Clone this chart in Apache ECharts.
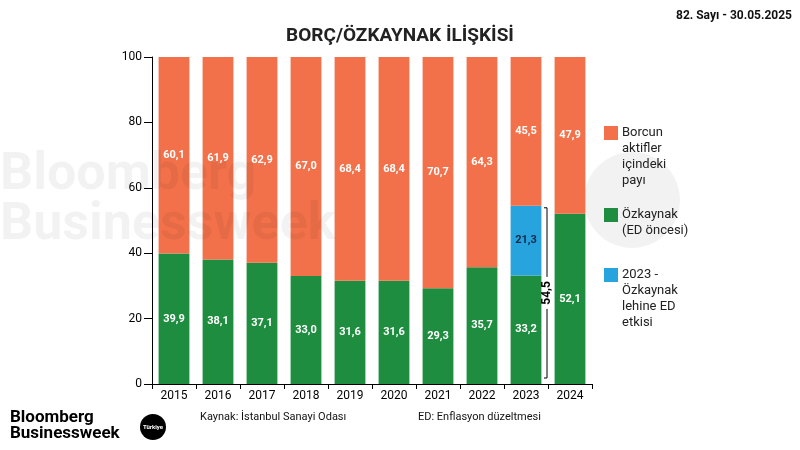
<!DOCTYPE html>
<html><head><meta charset="utf-8">
<script src="https://cdn.jsdelivr.net/npm/echarts@6/dist/echarts.min.js"></script>
<style>html,body{margin:0;background:#fff}#c{width:800px;height:450px}</style>
</head><body><div id="c"></div>
<script>
"use strict";
const years = ["2015", "2016", "2017", "2018", "2019", "2020", "2021", "2022", "2023", "2024"];
const equity = [39.9, 38.1, 37.1, 33.0, 31.6, 31.6, 29.3, 35.7, 33.2, 52.1];
const edEffect = [0, 0, 0, 0, 0, 0, 0, 0, 21.3, 0];
const debt = [60.1, 61.9, 62.9, 67.0, 68.4, 68.4, 70.7, 64.3, 45.5, 47.9];
const yTicks = [0, 20, 40, 60, 80, 100];
const bracketTotal = 54.5;

const colors = { debt: "#f2714a", equity: "#1f8d3f", ed: "#27a4dd" };
const fmt = v => v.toFixed(1).replace(".", ",");

const chart = echarts.init(document.getElementById("c"));
const label = {
  show: true, color: "#fff", fontWeight: "bold", fontSize: 11,
  fontFamily: "Roboto", formatter: p => (p.value ? fmt(p.value) : ""),
};
const bar = { type: "bar", stack: "s", barCategoryGap: "30%", label: label, silent: true };

chart.setOption({
  animation: false,
  grid: { left: 152, right: 208, top: 57, bottom: 66 },
  xAxis: {
    type: "category", data: years,
    axisLine: { lineStyle: { color: "#000" } },
    axisTick: { show: true, lineStyle: { color: "#000" } },
    axisLabel: { color: "#000", fontSize: 12, fontFamily: "Roboto", margin: 6 },
  },
  yAxis: {
    type: "value", min: 0, max: 100, interval: 20,
    axisLine: { show: true, lineStyle: { color: "#000" } },
    axisTick: { show: true, length: 8, lineStyle: { color: "#000" } },
    splitLine: { show: false },
    axisLabel: { color: "#000", fontSize: 12, fontFamily: "Roboto", margin: 10,
      formatter: v => (yTicks.includes(v) ? String(v) : "") },
  },
  series: [
    { ...bar, name: "equity", data: equity, itemStyle: { color: colors.equity } },
    { ...bar, name: "ed", data: edEffect, itemStyle: { color: colors.ed },
      label: { ...label, color: "#10284a" } },
    { ...bar, name: "debt", data: debt, itemStyle: { color: colors.debt } },
  ],
});

// bracket next to 2023 and overlay texts
const p0 = chart.convertToPixel({ xAxisIndex: 0, yAxisIndex: 0 }, ["2023", 0]);
const p1 = chart.convertToPixel({ xAxisIndex: 0, yAxisIndex: 0 }, ["2023", bracketTotal]);
const bx = p0[0] + 21;
const yb = p0[1] - 6, yt = p1[1] + 2, ym = (yb + yt) / 2;
const legendItems = [
  { color: colors.debt, y: 126, text: "Borcun\naktifler\niçindeki\npayı" },
  { color: colors.equity, y: 208, text: "Özkaynak\n(ED öncesi)" },
  { color: colors.ed, y: 268, text: "2023 -\nÖzkaynak\nlehine ED\netkisi" },
];
const graphics = [
  { type: "text", left: 0, top: 150, z: 10, style: { text: "Bloomberg\nBusinessweek", fill: "rgba(0,0,0,0.05)",
    font: "bold 52px Roboto", lineHeight: 50, x: 80 } },
  { type: "circle", shape: { cx: 632, cy: 200, r: 48 }, style: { fill: "rgba(0,0,0,0.05)" } },
  { type: "text", style: { text: "BORÇ/ÖZKAYNAK İLİŞKİSİ", x: 400, y: 36, align: "center", verticalAlign: "middle",
    font: "bold 19px Roboto", fill: "#222" } },
  { type: "text", style: { text: "82. Sayı - 30.05.2025", x: 792, y: 16, align: "right", verticalAlign: "middle",
    font: "bold 12px Roboto", fill: "#111" } },
  { type: "polyline", z: 10, shape: { points: [[bx - 3, yt], [bx, yt], [bx, ym - 16]] },
    style: { stroke: "#000", lineWidth: 1, fill: null } },
  { type: "polyline", z: 10, shape: { points: [[bx, ym + 16], [bx, yb], [bx - 3, yb]] },
    style: { stroke: "#000", lineWidth: 1, fill: null } },
  { type: "text", z: 10, rotation: Math.PI / 2, x: bx, y: ym,
    style: { text: fmt(bracketTotal), align: "center", verticalAlign: "middle", font: "bold 12px Roboto", fill: "#000" } },
  { type: "text", style: { text: "Kaynak: İstanbul Sanayi Odası", x: 200, y: 417, verticalAlign: "middle",
    font: "11px Roboto", fill: "#111" } },
  { type: "text", style: { text: "ED: Enflasyon düzeltmesi", x: 418, y: 417, verticalAlign: "middle",
    font: "11px Roboto", fill: "#111" } },
  { type: "text", style: { text: "Bloomberg\nBusinessweek", x: 10, y: 426, verticalAlign: "middle",
    font: "bold 17px Roboto", lineHeight: 16, fill: "#000" } },
  { type: "circle", shape: { cx: 153, cy: 427, r: 13 }, style: { fill: "#000" } },
  { type: "text", style: { text: "Türkiye", x: 153, y: 427, align: "center", verticalAlign: "middle",
    font: "bold 6px Roboto", fill: "#fff" } },
];
legendItems.forEach(it => {
  graphics.push({ type: "rect", shape: { x: 604, y: it.y, width: 14, height: 14 }, style: { fill: it.color } });
  graphics.push({ type: "text", style: { text: it.text, x: 622, y: it.y - 1, font: "13px Roboto",
    lineHeight: 16, fill: "#222" } });
});
chart.setOption({ graphic: graphics });
</script></body></html>
